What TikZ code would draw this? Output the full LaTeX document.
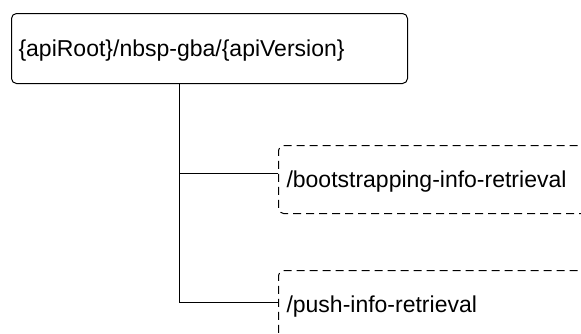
\documentclass[tikz,border=0pt]{standalone}
\usepackage{fontspec}
\setmainfont{Liberation Sans}
\begin{document}
\begin{tikzpicture}[x=1pt,y=-1pt,
  every node/.style={font=\fontsize{23}{27}\selectfont, text height=26pt, text depth=10pt},
  rootbox/.style={draw, line width=1pt, rounded corners=5pt, anchor=north west,
    minimum width=396pt, minimum height=70pt, text width=382pt, align=left, inner sep=7pt},
  resbox/.style={draw, dash pattern=on 8pt off 5pt, line width=1pt, rounded corners=5pt,
    anchor=north west, minimum width=330pt, minimum height=68pt, text width=314pt,
    align=left, inner sep=8pt},
  conn/.style={line width=1pt}]
\useasboundingbox (0,0) rectangle (581,333);
\clip (0,0) rectangle (581,333);
\node[rootbox] (root) at (11,13) {\{apiRoot\}/nbsp-gba/\{apiVersion\}};
\node[resbox] (boot) at (278,145) {/bootstrapping-info-retrieval};
\node[resbox] (push) at (278,270) {/push-info-retrieval};
\coordinate (top) at (179,83);
\coordinate (j1) at (179,173);
\coordinate (j2) at (179,302);
\draw[conn] (root.south -| top) -- (j2) -- (push.west |- j2);
\draw[conn] (j1) -- (boot.west |- j1);
\end{tikzpicture}
\end{document}
